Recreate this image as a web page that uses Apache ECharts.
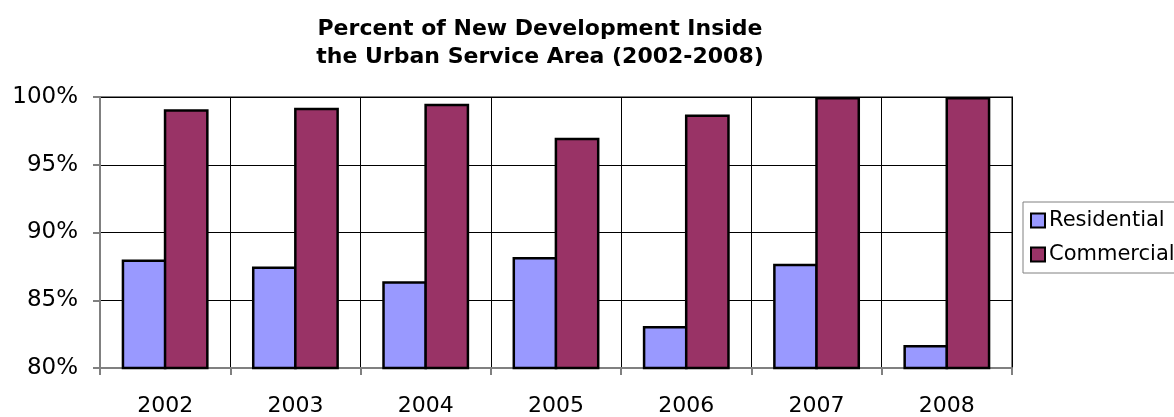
<!DOCTYPE html>
<html>
<head>
<meta charset="utf-8">
<script src="https://cdn.jsdelivr.net/npm/echarts@6/dist/echarts.min.js"></script>
<style>
html,body{margin:0;padding:0;background:#fff;}
#c{width:1174px;height:417px;}
</style>
</head>
<body>
<div id="c"></div>
<script>
var years = ['2002','2003','2004','2005','2006','2007','2008'];
var residential = [88.0, 87.5, 86.4, 88.2, 83.1, 87.7, 81.7];
var commercial = [99.1, 99.2, 99.5, 97.0, 98.7, 100, 100];
var seriesNames = ['Residential', 'Commercial'];
var titleLines = ['Percent of New Development Inside', 'the Urban Service Area (2002-2008)'];

var chart = echarts.init(document.getElementById('c'), null, {renderer: 'canvas'});
var font = 'DejaVu Sans, Verdana, sans-serif';
chart.setOption({
  animation: false,
  backgroundColor: '#ffffff',
  title: {
    text: titleLines.join('\n'),
    left: 535,
    textAlign: 'center',
    top: 10,
    textStyle: {fontFamily: font, fontWeight: 'bold', fontSize: 22, lineHeight: 28, color: '#000'}
  },
  legend: {
    orient: 'vertical',
    left: 1023,
    top: 202,
    padding: [8, 60, 8, 7],
    itemGap: 13,
    itemWidth: 14,
    itemHeight: 14,
    borderColor: '#808080',
    borderWidth: 1,
    icon: 'rect',
    itemStyle: {borderColor: '#000', borderWidth: 2},
    textStyle: {fontFamily: font, fontSize: 21, color: '#000', padding: [0,0,0,-1]},
    data: seriesNames
  },
  grid: {left: 100, top: 97, right: 162, bottom: 48, show: true, borderColor: '#808080', borderWidth: 2},
  xAxis: {
    type: 'category',
    data: years,
    axisLine: {lineStyle: {color: '#808080', width: 2}},
    axisTick: {show: true, length: 7, lineStyle: {color: '#808080', width: 2}},
    axisLabel: {fontFamily: font, fontSize: 22, color: '#000', margin: 27},
    splitLine: {show: true, lineStyle: {color: '#000', width: 1}}
  },
  yAxis: {
    type: 'value',
    min: 80,
    max: 100,
    interval: 5,
    axisLine: {show: true, lineStyle: {color: '#808080', width: 2}},
    axisTick: {show: true, length: 7, lineStyle: {color: '#808080', width: 2}},
    axisLabel: {fontFamily: font, fontSize: 23, color: '#000', margin: 22, formatter: '{value}%'},
    splitLine: {show: true, lineStyle: {color: '#000', width: 1}}
  },
  series: [
    {
      name: seriesNames[0], type: 'bar', data: residential,
      barCategoryGap: '33.3%', barGap: '-6%',
      itemStyle: {color: '#9999FF', borderColor: '#000', borderWidth: 2.5}
    },
    {
      name: seriesNames[1], type: 'bar', data: commercial,
      barCategoryGap: '33.3%', barGap: '-6%',
      itemStyle: {color: '#993366', borderColor: '#000', borderWidth: 2.5}
    }
  ]
});
</script>
</body>
</html>
